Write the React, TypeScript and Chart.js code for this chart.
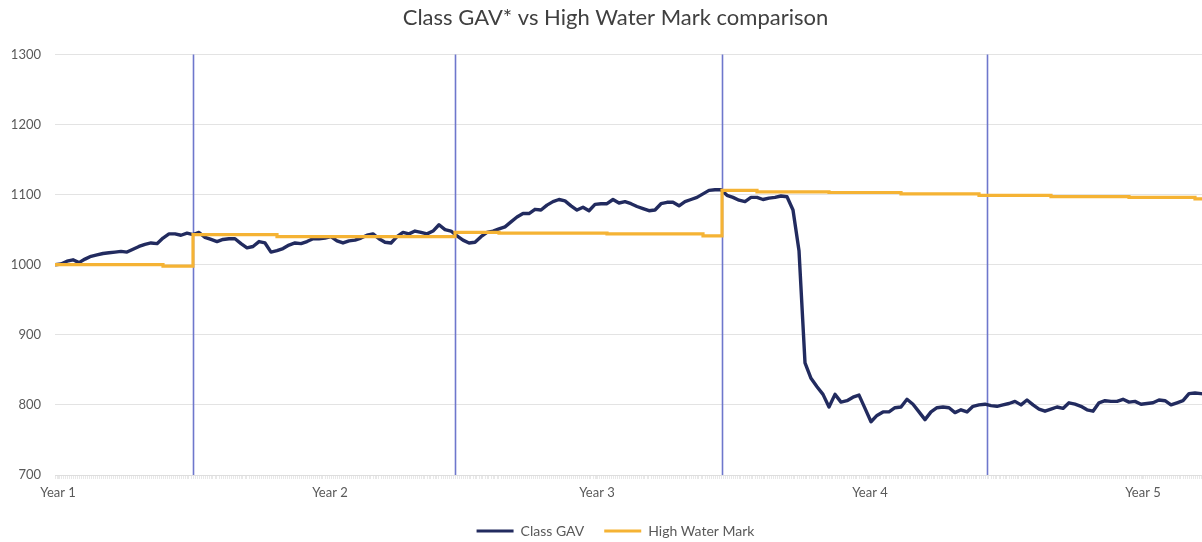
import React, { useEffect, useRef } from "react";
import { Chart, registerables } from "chart.js";

Chart.register(...registerables);

// Class GAV, one reading per period (index = period number)
const gav: number[] = [
  1000, 1001, 1005, 1007, 1003, 1008, 1012, 1014, 1016, 1017,
  1018, 1019, 1018, 1022, 1026, 1029, 1031, 1030, 1038, 1044,
  1044, 1042, 1045, 1043, 1046, 1039, 1036, 1033, 1036, 1037,
  1037, 1030, 1024, 1026, 1033, 1031, 1018, 1020, 1023, 1028,
  1031, 1030, 1033, 1037, 1037, 1038, 1040, 1034, 1031, 1034,
  1035, 1038, 1042, 1044, 1037, 1032, 1031, 1040, 1046, 1044,
  1048, 1046, 1044, 1048, 1057, 1050, 1048, 1041, 1035, 1031,
  1032, 1040, 1046, 1048, 1051, 1054, 1061, 1068, 1073, 1073,
  1079, 1078, 1085, 1090, 1093, 1091, 1084, 1078, 1082, 1077,
  1086, 1087, 1087, 1093, 1088, 1090, 1087, 1083, 1080, 1077,
  1078, 1087, 1089, 1089, 1084, 1090, 1093, 1096, 1101, 1106,
  1107, 1107, 1099, 1096, 1092, 1090, 1096, 1096, 1093, 1095,
  1096, 1098, 1097, 1078, 1020, 860, 838, 826, 815, 797,
  815, 804, 806, 811, 814, 795, 776, 785, 790, 790,
  796, 797, 808, 801, 790, 779, 790, 796, 797, 796,
  789, 793, 790, 798, 800, 801, 799, 798, 800, 802,
  805, 800, 807, 800, 794, 791, 794, 797, 795, 803,
  801, 798, 793, 791, 803, 806, 805, 805, 808, 804,
  805, 801, 802, 803, 807, 806, 800, 803, 806, 816,
  817, 816, 815, 818, 816, 819, 818,
];

// High Water Mark: period where each level starts, and the level
const hwmStart: number[] = [0, 18, 23, 37, 66.67, 74, 92, 108, 111.17, 117, 129, 141, 154, 166, 179, 190, 196];
const hwmLevel: number[] = [1000, 998, 1043, 1040, 1046, 1045, 1044, 1041, 1106, 1104, 1103, 1101, 1099, 1097, 1096, 1094, 1094];

// Year-end markers (vertical lines) and x-axis labels
const yearEnds: number[] = [23, 66.67, 111.17, 155.33];
const yearLabelPos: number[] = [0.5, 45.83, 90.33, 135.83, 181.33];
const yearLabels: string[] = ["Year 1", "Year 2", "Year 3", "Year 4", "Year 5"];

const yTicks: number[] = [700, 800, 900, 1000, 1100, 1200, 1300];

const FONT = "Lato";

export default function App() {
  const ref = useRef<HTMLCanvasElement | null>(null);

  useEffect(() => {
    document.body.style.margin = "0";
    document.body.style.overflow = "hidden";
    const canvas = ref.current;
    if (!canvas) return;

    const lastX = gav.length - 1;

    const yearLinesPlugin = {
      id: "yearLines",
      beforeDatasetsDraw(chart: any) {
        const { ctx, chartArea, scales } = chart;
        ctx.save();
        ctx.strokeStyle = "#6e77cc";
        ctx.lineWidth = 1.6;
        yearEnds.forEach((v) => {
          const px = Math.round(scales.x.getPixelForValue(v)) + 0.5;
          ctx.beginPath();
          ctx.moveTo(px, chartArea.top);
          ctx.lineTo(px, chartArea.bottom);
          ctx.stroke();
        });
        ctx.restore();
      },
    };

    const chart = new Chart(canvas, {
      type: "line",
      data: {
        datasets: [
          {
            label: "Class GAV",
            data: gav.map((y, i) => ({ x: i, y })),
            borderColor: "#222b5f",
            backgroundColor: "#222b5f",
            borderWidth: 3.4,
            pointRadius: 0,
            tension: 0,
            borderJoinStyle: "round",
            order: 1,
          },
          {
            label: "High Water Mark",
            data: hwmStart.map((x, i) => ({ x, y: hwmLevel[i] })),
            borderColor: "#f5b334",
            backgroundColor: "#f5b334",
            borderWidth: 3.2,
            pointRadius: 0,
            stepped: true,
            order: 0,
          },
        ],
      },
      options: {
        responsive: false,
        animation: false,
        layout: { padding: { left: 0, right: 11, top: 0, bottom: 0 } },
        plugins: {
          title: {
            display: true,
            text: "Class GAV* vs High Water Mark comparison",
            color: "#404040",
            font: { family: FONT, size: 22, weight: "normal" },
            padding: { top: 5, bottom: 23 },
          },
          legend: {
            position: "bottom",
            labels: {
              color: "#595959",
              font: { family: FONT, size: 14 },
              boxWidth: 37,
              boxHeight: 3,
              padding: 20,
              sort: (a: any, b: any) => a.datasetIndex - b.datasetIndex,
              generateLabels: (ch: any) =>
                ch.data.datasets.map((d: any, i: number) => ({
                  text: d.label,
                  fillStyle: d.borderColor,
                  strokeStyle: d.borderColor,
                  lineWidth: 0,
                  hidden: false,
                  datasetIndex: i,
                  fontColor: "#595959",
                })),
            },
          },
          tooltip: { enabled: false },
        },
        scales: {
          x: {
            type: "linear",
            min: 0,
            max: lastX,
            afterBuildTicks: (scale: any) => {
              const t: any[] = [];
              for (let k = 0; k <= lastX * 3; k++) t.push({ value: k / 3 });
              yearLabelPos.forEach((p) => t.push({ value: p }));
              t.sort((a, b) => a.value - b.value);
              scale.ticks = t;
            },
            afterFit: (scale: any) => {
              scale.height = 29;
            },
            ticks: {
              autoSkip: false,
              maxRotation: 0,
              minRotation: 0,
              padding: 6,
              color: "#595959",
              font: { family: FONT, size: 13 },
              callback: (value: any) => {
                const idx = yearLabelPos.findIndex((p) => Math.abs(p - Number(value)) < 1e-6);
                return idx >= 0 ? yearLabels[idx] : "";
              },
            },
            grid: {
              drawOnChartArea: false,
              drawTicks: true,
              tickLength: 4,
              color: "#e8e8e8",
              lineWidth: 1,
            },
            border: { display: true, color: "#dedede", width: 1 },
          },
          y: {
            type: "linear",
            min: 700,
            max: 1300,
            afterBuildTicks: (scale: any) => {
              scale.ticks = yTicks.map((v) => ({ value: v }));
            },
            afterFit: (scale: any) => {
              scale.width = 55;
            },
            ticks: {
              padding: 14,
              color: "#595959",
              font: { family: FONT, size: 13 },
              callback: (value: any) => String(value),
            },
            grid: {
              color: "#e3e3e3",
              lineWidth: 1,
              drawTicks: false,
            },
            border: { display: false },
          },
        },
      },
      plugins: [yearLinesPlugin],
    });

    return () => chart.destroy();
  }, []);

  return (
    <div style={{ width: 1202, height: 542, overflow: "hidden", position: "relative", background: "#fff" }}>
      <canvas ref={ref} width={1242} height={548} style={{ display: "block" }} />
    </div>
  );
}
